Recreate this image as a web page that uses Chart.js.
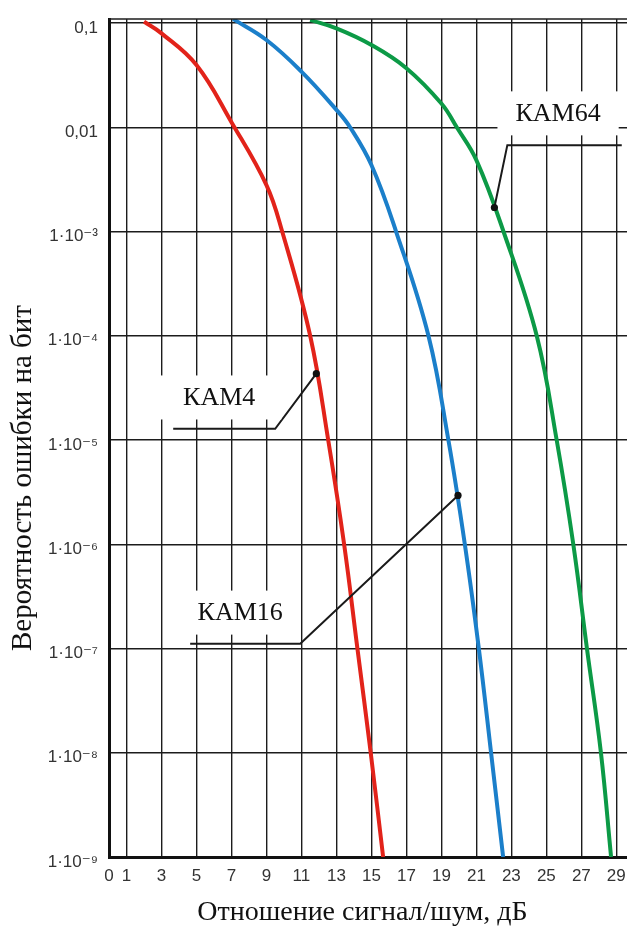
<!DOCTYPE html>
<html lang="ru">
<head>
<meta charset="utf-8">
<title>Вероятность ошибки на бит</title>
<script src="https://cdn.jsdelivr.net/npm/chart.js@4.4.1/dist/chart.umd.min.js"></script>
<style>
  html, body { margin: 0; padding: 0; background: #fff; }
  canvas { display: block; }
</style>
</head>
<body>
<canvas id="ber" width="627" height="926"></canvas>
<script>
const RED   = '#e2231a';
const BLUE  = '#1b7fca';
const GREEN = '#0c9a46';
const GRID  = '#1c1c1c';
const TICK  = '#333';
const SERIF = '"Liberation Serif", "Times New Roman", serif';
const SANS  = '"Liberation Sans", "DejaVu Sans", Arial, sans-serif';

// axes
const snrTicks = [0, 1, 3, 5, 7, 9, 11, 13, 15, 17, 19, 21, 23, 25, 27, 29];
const berTicks = [1e-9, 1e-8, 1e-7, 1e-6, 1e-5, 1e-4, 1e-3, 0.01, 0.1];
const berTickLabels = ['1·10⁻⁹', '1·10⁻⁸', '1·10⁻⁷', '1·10⁻⁶', '1·10⁻⁵', '1·10⁻⁴', '1·10⁻³', '0,01', '0,1'];

// КАМ4
const kam4Snr = [2.0, 3.0, 5.0, 7.0, 9.0, 9.9, 11.5, 12.53, 13.44, 14.2, 14.96, 15.67];
const kam4Ber = [0.103, 0.0796, 0.0395, 0.0112, 0.00279, 1.0e-3, 1.0e-4, 1.0e-5, 1.0e-6, 1.0e-7, 1.0e-8, 1.0e-9];

// КАМ16
const kam16Snr = [7.1, 9.0, 11.0, 13.0, 13.78, 15.0, 16.41, 18.26, 19.4, 20.34, 21.14, 21.84, 22.53];
const kam16Ber = [0.109, 0.0687, 0.0342, 0.0147, 0.0100, 0.00434, 1.0e-3, 1.0e-4, 1.0e-5, 1.0e-6, 1.0e-7, 1.0e-8, 1.0e-9];

// КАМ64
const kam64Snr = [11.5, 13.0, 15.0, 17.0, 19.0, 19.88, 21.0, 22.55, 24.45, 25.59, 26.54, 27.32, 28.12, 28.7];
const kam64Ber = [0.107, 0.089, 0.0617, 0.0369, 0.0169, 0.0100, 0.00484, 1.0e-3, 1.0e-4, 1.0e-5, 1.0e-6, 1.0e-7, 1.0e-8, 1.0e-9];

// callouts: label centre, point on curve, elbow of the leader, free end of the leader (snr)
const callouts = [
  { text: 'КАМ4',  at: [6.3, 2.56e-5],   dot: [11.85, 4.33e-5], elbow: [9.5, 1.28e-5],   tail: 3.67,  pad: 26 },
  { text: 'КАМ16', at: [7.5, 2.21e-7],   dot: [19.95, 2.94e-6], elbow: [10.93, 1.11e-7], tail: 4.64,  pad: 10 },
  { text: 'КАМ64', at: [25.67, 0.0136],  dot: [22.03, 1.7e-3],  elbow: [22.77, 6.74e-3], tail: 29.31, pad: 18 },
];

const pts = (xs, ys) => xs.map((x, i) => ({ x, y: ys[i] }));

const curve = (data, color) => ({
  data, borderColor: color, borderWidth: 4, pointRadius: 0, tension: 0.4, fill: false,
});

const calloutPlugin = {
  id: 'callouts',
  afterDatasetsDraw(chart) {
    const { ctx, scales: { x, y }, chartArea } = chart;
    const px = v => x.getPixelForValue(v);
    const py = v => y.getPixelForValue(v);
    ctx.save();
    // double line at the top
    ctx.strokeStyle = GRID; ctx.lineWidth = 1.4;
    ctx.beginPath(); ctx.moveTo(chartArea.left, chartArea.top); ctx.lineTo(chartArea.right, chartArea.top); ctx.stroke();

    ctx.font = '26px ' + SERIF;
    callouts.forEach(c => {
      ctx.strokeStyle = '#1a1a1a'; ctx.lineWidth = 2;
      ctx.beginPath();
      ctx.moveTo(px(c.tail), py(c.elbow[1]));
      ctx.lineTo(px(c.elbow[0]), py(c.elbow[1]));
      ctx.lineTo(px(c.dot[0]), py(c.dot[1]));
      ctx.stroke();
      ctx.fillStyle = '#111';
      ctx.beginPath(); ctx.arc(px(c.dot[0]), py(c.dot[1]), 3.6, 0, Math.PI * 2); ctx.fill();

      const w = ctx.measureText(c.text).width;
      const tx = px(c.at[0]), ty = py(c.at[1]);
      ctx.fillStyle = '#fff';
      ctx.fillRect(tx - w / 2 - c.pad, ty - 22, w + 2 * c.pad, 44);
      ctx.fillStyle = '#111'; ctx.textAlign = 'center'; ctx.textBaseline = 'middle';
      ctx.fillText(c.text, tx, ty + 1);
    });
    ctx.restore();
  },
  afterDraw(chart) {
    const { ctx, width, height } = chart;
    ctx.save();
    ctx.fillStyle = '#111'; ctx.textAlign = 'center'; ctx.textBaseline = 'middle';
    ctx.font = '28px ' + SERIF;
    ctx.fillText('Отношение сигнал/шум, дБ', width * 0.578, height - 13);
    ctx.translate(23, 478);
    ctx.rotate(-Math.PI / 2);
    ctx.font = '29px ' + SERIF;
    ctx.fillText('Вероятность ошибки на бит', 0, 0);
    ctx.restore();
  },
};

new Chart(document.getElementById('ber'), {
  type: 'line',
  data: {
    datasets: [
      curve(pts(kam4Snr, kam4Ber), RED),
      curve(pts(kam16Snr, kam16Ber), BLUE),
      curve(pts(kam64Snr, kam64Ber), GREEN),
    ],
  },
  options: {
    responsive: false, animation: false, devicePixelRatio: 1,
    layout: { padding: { top: 19, right: 0, left: 0, bottom: 0 } },
    plugins: { legend: { display: false }, tooltip: { enabled: false } },
    scales: {
      x: {
        type: 'linear', min: 0, max: 29.61,
        afterBuildTicks: s => { s.ticks = snrTicks.map(value => ({ value })); },
        afterFit: s => { s.height = 69; s.paddingLeft = 0; s.paddingRight = 0; },
        grid: { color: GRID, lineWidth: 1.4, drawTicks: false },
        border: { color: '#111', width: 3 },
        ticks: { autoSkip: false, maxRotation: 0, padding: 9, color: TICK, font: { family: SANS, size: 17 } },
      },
      y: {
        type: 'logarithmic', min: 1e-9, max: 0.1093,
        afterBuildTicks: s => { s.ticks = berTicks.map(value => ({ value })); },
        afterFit: s => { s.width = 109; s.paddingTop = 0; s.paddingBottom = 0; },
        grid: { color: GRID, lineWidth: 1.4, drawTicks: false },
        border: { color: '#111', width: 3 },
        ticks: {
          autoSkip: false, padding: 11, labelOffset: 5, color: TICK, font: { family: SANS, size: 17 },
          callback: (v, i) => berTickLabels[i],
        },
      },
    },
  },
  plugins: [calloutPlugin],
});
</script>
</body>
</html>
